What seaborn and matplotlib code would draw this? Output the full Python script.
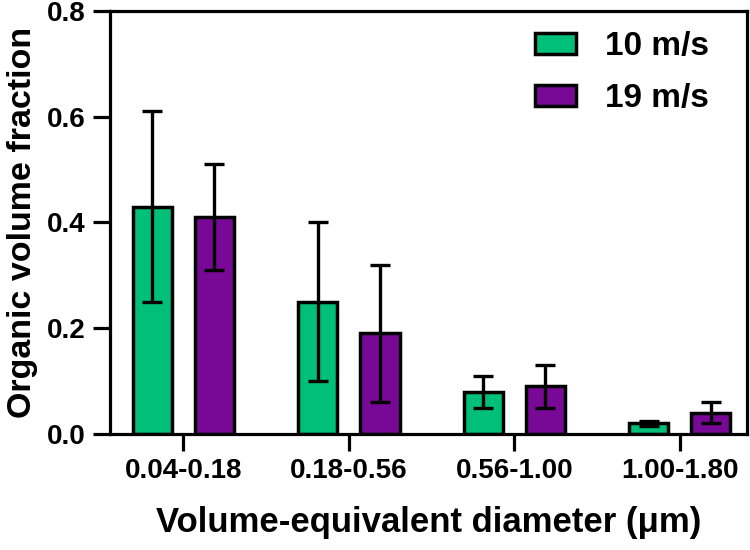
import matplotlib
matplotlib.use("Agg")
import matplotlib.pyplot as plt
import seaborn as sns
import pandas as pd
import numpy as np

categories = ["0.04-0.18", "0.18-0.56", "0.56-1.00", "1.00-1.80"]
series_names = ["10 m/s", "19 m/s"]
values_10 = [0.43, 0.25, 0.08, 0.02]
errors_10 = [0.18, 0.15, 0.03, 0.005]
values_19 = [0.41, 0.19, 0.09, 0.04]
errors_19 = [0.10, 0.13, 0.04, 0.02]
colors = ["#00BF78", "#780896"]

sns.set_theme(style="ticks")
plt.rcParams['font.family'] = ['Liberation Sans', 'DejaVu Sans']
plt.rcParams['font.weight'] = 'bold'
plt.rcParams['text.color'] = 'black'
plt.rcParams['axes.labelcolor'] = 'black'
plt.rcParams['xtick.color'] = 'black'
plt.rcParams['ytick.color'] = 'black'

df = pd.DataFrame({
    "category": categories * 2,
    "speed": [series_names[0]] * 4 + [series_names[1]] * 4,
    "value": values_10 + values_19,
})

fig = plt.figure(figsize=(7.5, 5.5), dpi=100)
ax = fig.add_axes([0.147, 0.211, 0.849, 0.769])

sns.barplot(data=df, x="category", y="value", hue="speed", order=categories,
            hue_order=series_names, palette=colors, width=0.752, gap=0.372,
            edgecolor="black", linewidth=2.5, errorbar=None, ax=ax, saturation=1)

errs = [errors_10, errors_19]
vals = [values_10, values_19]
for cont, e, v in zip(ax.containers, errs, vals):
    xs = [p.get_x() + p.get_width() / 2 for p in cont.patches]
    ax.errorbar(xs, v, yerr=e, fmt="none", ecolor="black", elinewidth=2.4,
                capsize=7.5, capthick=2.4, zorder=5)

ax.set_ylim(0, 0.8)
ax.set_xlim(-0.442, 3.406)
ax.set_yticks([0.0, 0.2, 0.4, 0.6, 0.8])
ax.set_yticklabels(["0.0", "0.2", "0.4", "0.6", "0.8"])
ax.set_xlabel("Volume-equivalent diameter (μm)", fontsize=25, fontweight="bold",
              labelpad=16, color="black")
ax.set_ylabel("Organic volume fraction", fontsize=24.5, fontweight="bold",
              labelpad=6, color="black")

for s in ax.spines.values():
    s.set_visible(True)
    s.set_linewidth(2.3)
    s.set_color("black")

ax.tick_params(axis="both", which="major", width=2.3, length=12, color="black",
               labelsize=20, direction="out", labelcolor="black")
ax.tick_params(axis="x", pad=5)
ax.tick_params(axis="y", pad=6)
for lbl in ax.get_xticklabels() + ax.get_yticklabels():
    lbl.set_fontweight("bold")

leg = ax.legend(loc="upper right", frameon=False, fontsize=24, handlelength=1.25,
                handleheight=0.6, borderaxespad=0.0, borderpad=0.0, labelspacing=0.62,
                bbox_to_anchor=(0.94, 0.952), handletextpad=0.85)
for t in leg.get_texts():
    t.set_fontweight("bold")
    t.set_color("black")
for h in leg.legend_handles:
    h.set_edgecolor("black")
    h.set_linewidth(2.5)

fig.savefig("out.png", dpi=100)
